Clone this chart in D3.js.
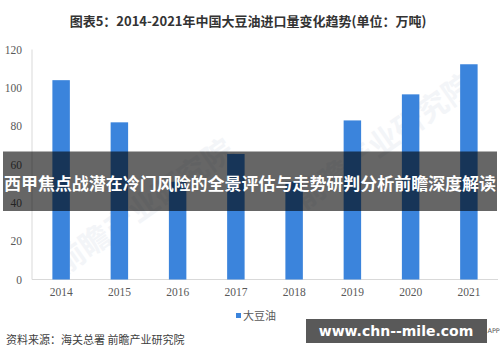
<!DOCTYPE html>
<html>
<head>
<meta charset="utf-8">
<script src="https://cdn.jsdelivr.net/npm/d3@7"></script>
<style>
  body { margin: 0; background: #fff; }
  svg { display: block; }
</style>
</head>
<body>
<div id="chart"></div>
<script>
// data
var years = ["2014", "2015", "2016", "2017", "2018", "2019", "2020", "2021"];
var imports = [104, 82, 51, 65.5, 51, 83, 96.6, 112.3];
var yTicks = [0, 20, 40, 60, 80, 100, 120];

var width = 500, height = 362;
var margin = {top: 49.5, right: 2, bottom: 82.5, left: 32};

var svg = d3.select("#chart").append("svg")
  .attr("width", width)
  .attr("height", height);

// title
svg.append("text")
  .attr("x", 248)
  .attr("y", 26)
  .attr("text-anchor", "middle")
  .style("font-family", "'Noto Sans CJK SC', sans-serif")
  .style("font-weight", "bold")
  .style("font-size", "13px")
  .style("fill", "#333")
  .text("图表5：2014-2021年中国大豆油进口量变化趋势(单位：万吨)");

// faint watermarks
[[150, 215], [390, 150]].forEach(function(p) {
  svg.append("text")
    .attr("transform", "translate(" + p[0] + "," + p[1] + ") rotate(-35)")
    .attr("text-anchor", "middle")
    .style("font-family", "'Noto Sans CJK SC', sans-serif")
    .style("font-size", "30px")
    .style("font-weight", "bold")
    .style("fill", "#f3f5f8")
    .text("前瞻产业研究院");
});

var x = d3.scaleBand()
  .domain(years)
  .range([margin.left, width - margin.right])
  .paddingInner(0.7)
  .paddingOuter(0.35);

var y = d3.scaleLinear()
  .domain([0, 120])
  .range([height - margin.bottom, margin.top]);

// axis lines
svg.append("line")
  .attr("x1", margin.left).attr("x2", margin.left)
  .attr("y1", y(120)).attr("y2", y(0))
  .attr("stroke", "#d9d9d9");
svg.append("line")
  .attr("x1", margin.left).attr("x2", width - margin.right)
  .attr("y1", y(0)).attr("y2", y(0))
  .attr("stroke", "#d9d9d9");

// y tick labels
svg.selectAll(".ytick")
  .data(yTicks)
  .enter().append("text")
  .attr("class", "ytick")
  .attr("x", 22)
  .attr("y", function(d) { return y(d); })
  .attr("dy", "0.35em")
  .attr("text-anchor", "end")
  .style("font-family", "'Liberation Serif', serif")
  .style("font-size", "11.5px")
  .style("fill", "#595959")
  .text(function(d) { return d; });

// x tick labels
svg.selectAll(".xtick")
  .data(years)
  .enter().append("text")
  .attr("class", "xtick")
  .attr("x", function(d) { return x(d) + x.bandwidth() / 2; })
  .attr("y", y(0) + 12)
  .attr("dy", "0.35em")
  .attr("text-anchor", "middle")
  .style("font-family", "'Liberation Serif', serif")
  .style("font-size", "11.5px")
  .style("fill", "#595959")
  .text(function(d) { return d; });

// bars
svg.selectAll(".bar")
  .data(imports)
  .enter().append("rect")
  .attr("class", "bar")
  .attr("x", function(d, i) { return x(years[i]); })
  .attr("width", x.bandwidth())
  .attr("y", function(d) { return y(d); })
  .attr("height", function(d) { return y(0) - y(d); })
  .attr("fill", "#3b84dc");

// legend
svg.append("rect")
  .attr("x", 236).attr("y", 313)
  .attr("width", 5).attr("height", 5)
  .attr("fill", "#3b84dc");
svg.append("text")
  .attr("x", 243).attr("y", 316)
  .attr("dy", "0.35em")
  .style("font-family", "'Noto Sans CJK SC', sans-serif")
  .style("font-size", "11px")
  .style("fill", "#595959")
  .text("大豆油");

// source
svg.append("text")
  .attr("x", 6).attr("y", 340)
  .attr("dy", "0.35em")
  .style("font-family", "'Noto Sans CJK SC', sans-serif")
  .style("font-size", "11px")
  .style("fill", "#404040")
  .text("资料来源：海关总署 前瞻产业研究院");

// overlay banner across the chart
svg.append("rect")
  .attr("x", 3).attr("y", 151.5)
  .attr("width", 494).attr("height", 59.5)
  .attr("fill", "#000")
  .attr("fill-opacity", 0.6);
svg.append("text")
  .attr("x", 250).attr("y", 184)
  .attr("dy", "0.35em")
  .attr("text-anchor", "middle")
  .attr("textLength", 492)
  .attr("lengthAdjust", "spacingAndGlyphs")
  .style("font-family", "'Noto Sans CJK SC', sans-serif")
  .style("font-weight", "bold")
  .style("font-size", "16.5px")
  .style("fill", "#fff")
  .text("西甲焦点战潜在冷门风险的全景评估与走势研判分析前瞻深度解读");

// site stamp bottom right
svg.append("rect")
  .attr("x", 306).attr("y", 319)
  .attr("width", 181).attr("height", 24)
  .attr("fill", "#595959");
svg.append("text")
  .attr("x", 396).attr("y", 331)
  .attr("dy", "0.35em")
  .attr("text-anchor", "middle")
  .style("font-family", "'DejaVu Sans', sans-serif")
  .style("font-weight", "bold")
  .style("font-size", "14px")
  .style("fill", "#fff")
  .text("www.chn--mile.com");
svg.append("text")
  .attr("x", 487.5).attr("y", 331)
  .attr("dy", "0.35em")
  .style("font-family", "'DejaVu Sans', sans-serif")
  .style("font-size", "6.5px")
  .style("fill", "#555")
  .text("APP");
</script>
</body>
</html>
